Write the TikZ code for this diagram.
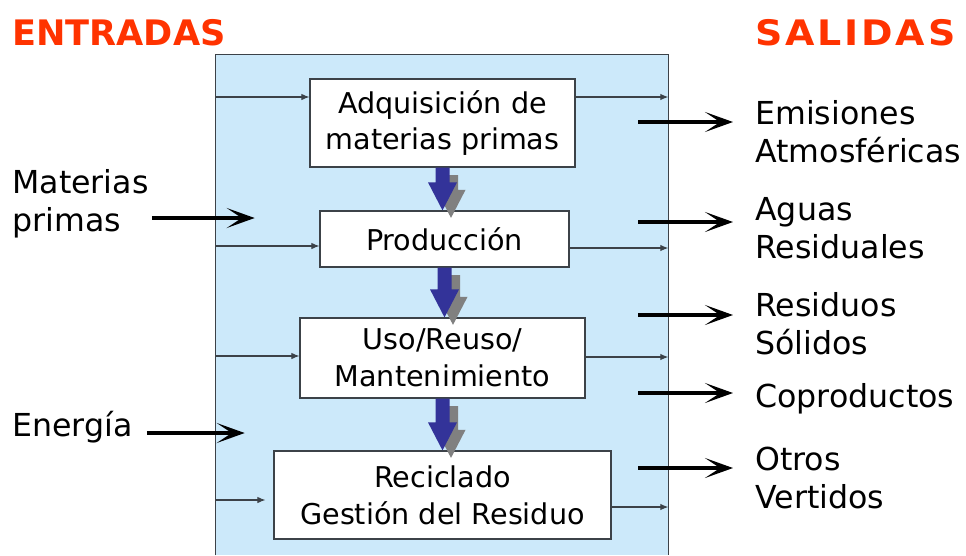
\documentclass[tikz,border=0pt]{standalone}
\usepackage{fontspec}
\setmainfont{DejaVu Sans}
\usetikzlibrary{arrows.meta,calc}

\definecolor{sysblue}{RGB}{204,233,250}
\definecolor{titlered}{RGB}{255,51,0}
\definecolor{blockblue}{RGB}{51,51,153}
\definecolor{linegray}{RGB}{60,66,72}

\tikzset{
	stage/.style={draw=linegray, fill=white, line width=0.7pt, align=center, inner sep=0,
		font=\fontsize{16.3}{21}\selectfont},
	lbl/.style={inner sep=0, align=left, anchor=west, font=\fontsize{18}{21.5}\selectfont},
	ttl/.style={inner sep=0, anchor=west, text=titlered, font=\bfseries\fontsize{20}{24}\selectfont},
	inarr/.style={draw=linegray, line width=0.6pt, -{Latex[length=0.16cm,width=0.13cm]}},
	bigarr/.style={line width=2.8pt, -{Stealth[length=0.56cm,width=0.4cm,inset=0.3cm]}},
}

\begin{document}
\begin{tikzpicture}[x=0.02cm,y=-0.02cm]
\useasboundingbox (0,0) rectangle (966,555);

% system boundary
\node[fill=sysblue, inner sep=0, minimum width=9.04cm, minimum height=10cm] (sys) at (442,305) {};
\draw[linegray, line width=0.6pt] (sys.south west) -- (sys.north west) -- (sys.north east) -- (sys.south east);

\node[ttl] (entr) at (12,33) {ENTRADAS};
\node[ttl] (sal) at (755,33) {\addfontfeature{LetterSpace=8,FakeStretch=1.08}SALIDAS};

% stages
\node[stage, minimum width=5.3cm, minimum height=1.76cm] (b1) at (442.5,123) {Adquisición de\\materias primas};
\node[stage, minimum width=4.98cm, minimum height=1.12cm] (b2) at (444.5,239) {Producción};
\node[stage, minimum width=5.7cm, minimum height=1.6cm] (b3) at (442.5,358) {Uso/Reuso/\\Mantenimiento};
\node[stage, minimum width=6.74cm, minimum height=1.76cm] (b4) at (442.5,495) {Reciclado\\Gestión del Residuo};

% thin flows in and out
\draw[inarr] (sys.west |- 0,97) -- (b1.west |- 0,97);
\draw[inarr] (sys.west |- 0,246) -- (b2.west |- 0,246);
\draw[inarr] (sys.west |- 0,356) -- (b3.west |- 0,356);
\draw[inarr] (sys.west |- 0,500) -- ($(b4.west |- 0,500)+(-8,0)$);
\draw[inarr] (b1.east |- 0,97) -- (sys.east |- 0,97);
\draw[inarr] (b2.east |- 0,248) -- (sys.east |- 0,248);
\draw[inarr] (b3.east |- 0,357) -- (sys.east |- 0,357);
\draw[inarr] (b4.east |- 0,507) -- (sys.east |- 0,507);

% block arrows between stages, gray shadow first
\foreach \a/\b in {b1/b2, b2/b3, b3/b4}
{
	\foreach \dx/\dy/\col in {0.17cm/-0.15cm/gray, 0cm/0cm/blockblue}
	{
		\fill[\col] let \p1=(\a.south), \p2=(\b.north), \n1={\x1+\dx}, \n2={\y1+\dy}, \n3={\y2+\dy} in
			(\n1-0.14cm,\n2) -- (\n1+0.14cm,\n2) -- (\n1+0.14cm,\n3+0.56cm) -- (\n1+0.29cm,\n3+0.56cm)
			-- (\n1,\n3) -- (\n1-0.29cm,\n3+0.56cm) -- (\n1-0.14cm,\n3+0.56cm) -- cycle;
	}
}

% inputs
\node[lbl] (mat) at (12,204) {Materias\\primas};
\node[lbl] (ener) at (12,427) {Energía};
\draw[bigarr] ($(mat.east |- 0,218)+(3,0)$) -- ($(sys.west |- 0,218)+(39,0)$);
\draw[bigarr] ($(ener.east |- 0,433)+(14,0)$) -- ($(sys.west |- 0,433)+(29,0)$);

% outputs
\node[lbl] (emis) at (755,132) {Emisiones\\Atmosféricas};
\node[lbl] (agua) at (755,228) {Aguas\\Residuales};
\node[lbl] (resi) at (755,324) {Residuos\\Sólidos};
\node[lbl] (copr) at (755,399) {Coproductos};
\node[lbl] (otro) at (755,478) {Otros\\Vertidos};
\foreach \n/\y in {emis/122, agua/222, resi/315, copr/393, otro/468}
{
	\draw[bigarr] ($(sys.east |- 0,\y)+(-30,0)$) -- ($(\n.west |- 0,\y)+(-22,0)$);
}

\end{tikzpicture}
\end{document}
